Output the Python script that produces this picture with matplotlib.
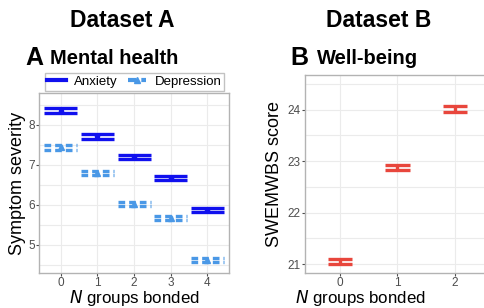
import numpy as np
import matplotlib
matplotlib.use("Agg")
import matplotlib.pyplot as plt
from matplotlib.lines import Line2D

plt.rcParams['font.family'] = ['Liberation Sans', 'DejaVu Sans']

# data
groups_a = [0, 1, 2, 3, 4]
anxiety = [8.35, 7.71, 7.20, 6.66, 5.88]
anxiety_err = [0.06, 0.06, 0.05, 0.05, 0.05]
depression = [7.43, 6.79, 6.03, 5.68, 4.62]
depression_err = [0.05, 0.05, 0.05, 0.05, 0.04]

groups_b = [0, 1, 2]
wellbeing = [21.05, 22.87, 24.01]
wellbeing_err = [0.05, 0.05, 0.06]

c_anx = '#1010ee'
c_dep = '#4a98e6'
c_wb = '#e8463c'
grid_c = '#ebebeb'
tick_c = '#4d4d4d'


def bars(ax, x, y, err, half, color, ls, marker, ms):
    x = np.array(x, float)
    y = np.array(y, float)
    err = np.array(err, float)
    ax.hlines(y + err, x - half, x + half, colors=color, linestyles=ls, lw=2.4, zorder=3)
    ax.hlines(y - err, x - half, x + half, colors=color, linestyles=ls, lw=2.4, zorder=3)
    ax.vlines(x, y - err, y + err, colors=color, lw=2.4, zorder=3)
    ax.plot(x, y, ls='none', marker=marker, ms=ms, color=color, zorder=4)


def style(ax):
    for s in ax.spines.values():
        s.set_color('#b3b3b3')
        s.set_linewidth(1.0)
    ax.tick_params(colors=tick_c, labelsize=8.5, length=2, width=0.8, pad=1)
    ax.tick_params(axis='both', which='minor', length=0)
    ax.grid(True, which='both', color=grid_c, lw=0.8)
    ax.set_axisbelow(True)


fig = plt.figure(figsize=(4.85, 3.08), dpi=100)

axA = fig.add_axes([0.0804, 0.114, 0.392, 0.584])
bars(axA, groups_a, anxiety, anxiety_err, 0.45, c_anx, 'solid', 'o', 3)
bars(axA, groups_a, depression, depression_err, 0.45, c_dep, (0, (2, 1.2)), '^', 5)
axA.set_xlim(-0.6, 4.6)
axA.set_ylim(4.30, 8.79)
axA.set_xticks(groups_a)
axA.set_yticks([5, 6, 7, 8])
axA.set_yticks([4.5, 5.5, 6.5, 7.5, 8.5], minor=True)
style(axA)
axA.set_ylabel('Symptom severity', fontsize=13)
axA.set_xlabel('$\\mathit{N}$ groups bonded', fontsize=12.2)
axA.yaxis.set_label_coords(-0.068, 0.5)
axA.xaxis.set_label_coords(0.5, -0.085)

handles = [Line2D([], [], color=c_anx, lw=3),
           Line2D([], [], color=c_dep, lw=3, ls=(0, (2, 1.2)), marker='^', ms=4)]
fig.legend(handles, ['Anxiety', 'Depression'], loc='center', bbox_to_anchor=(0.277, 0.734),
           ncol=2, fontsize=9.5, frameon=True, fancybox=False, edgecolor='#b3b3b3',
           handlelength=1.4, handletextpad=0.6, columnspacing=0.8, borderpad=0.2,
           borderaxespad=0)

axB = fig.add_axes([0.629, 0.114, 0.619, 0.642])
bars(axB, groups_b, wellbeing, wellbeing_err, 0.21, c_wb, 'solid', 'o', 0)
axB.set_xlim(-0.6, 4.6)
axB.set_ylim(20.83, 24.67)
axB.set_xticks(groups_b)
axB.set_yticks([21, 22, 23, 24])
axB.set_yticks([21.5, 22.5, 23.5, 24.5], minor=True)
style(axB)
axB.set_ylabel('SWEMWBS score', fontsize=13)
axB.set_xlabel('$\\mathit{N}$ groups bonded', fontsize=12.2)
axB.yaxis.set_label_coords(-0.073, 0.5)
axB.xaxis.set_label_coords(0.185, -0.078)

fig.text(0.252, 0.935, 'Dataset A', ha='center', va='center', fontsize=16.5, weight='bold')
fig.text(0.781, 0.935, 'Dataset B', ha='center', va='center', fontsize=16.5, weight='bold')
fig.text(25 / 485, 1 - 58 / 308, 'A', ha='left', va='center', fontsize=18, weight='bold')
fig.text(50 / 485, 1 - 58 / 308, 'Mental health', ha='left', va='center', fontsize=14.5, weight='bold')
fig.text(290 / 485, 1 - 58 / 308, 'B', ha='left', va='center', fontsize=18, weight='bold')
fig.text(317 / 485, 1 - 58 / 308, 'Well-being', ha='left', va='center', fontsize=14.5, weight='bold')

fig.savefig('out.png', dpi=100)
